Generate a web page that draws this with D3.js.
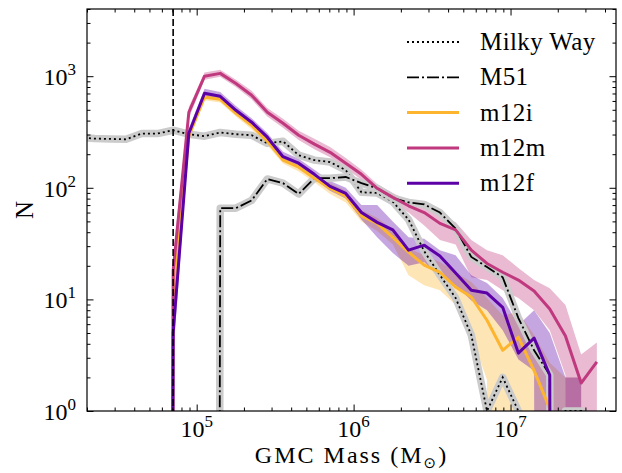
<!DOCTYPE html>
<html>
<head>
<meta charset="utf-8">
<script src="https://cdn.jsdelivr.net/npm/d3@7"></script>
<style>
body { margin: 0; background: #fff; }
</style>
</head>
<body>
<svg id="chart"></svg>
<script>
const width = 622;
const height = 473;
const plot = {left: 87, right: 616, top: 9, bottom: 411};
const serif = "'Liberation Serif', 'Times New Roman', Times, 'DejaVu Serif', 'Noto Serif', serif";

// bin centres, log10(M / Msun)
const binLogMass = [4.25, 4.35, 4.45, 4.55, 4.65, 4.75, 4.85, 4.95, 5.05, 5.15, 5.25, 5.35,
    5.45, 5.55, 5.65, 5.75, 5.85, 5.95, 6.05, 6.15, 6.25, 6.35, 6.45, 6.55, 6.65, 6.75,
    6.85, 6.95, 7.05, 7.15, 7.25, 7.35, 7.45, 7.55];

// counts per bin (null = not plotted, 0 = empty bin)
const milkyWay = [282, 276, 274, 272, 306, 306, 328, 302, 290, 313, 302, 296, 250, 261, 196, 177,
    170, 144, 91, 90, 75, 52, 27, 16.5, 10.3, 4.8, 1.0, 2, 1.0, 0, 0, 1, 1, 0];
const m51 = [null, null, null, null, null, null, null, null, 0, 65.7, 65.7, 77, 120, 110, 88, 122,
    122, 125, 110, 99, 81, 74, 71, 60, 43, 24, 19.5, 15.8, 6.8, 3.5, 2.1, 0, null, null];

const m12i = [null, null, null, null, null, 0, 10, 290, 648, 621, 465, 363, 261, 177, 153, 122,
    99, 84, 56, 48, 36, 26.5, 20.3, 17.5, 12.9, 10.5, 6.5, 3.5, 4.6, 2.3, 1.05, 0, null, null];
const m12iLo = [null, null, null, null, null, null, 7, 270, 610, 580, 435, 335, 240, 165, 140, 112,
    88, 74, 50, 41, 31, 16.5, 13.4, 12.1, 8.9, 4.8, 1.9, 0, 0, 0, 0, 0, 0, null];
const m12iHi = [null, null, null, null, null, null, 14, 315, 690, 665, 500, 395, 285, 192, 167, 134,
    110, 94, 63, 54, 42, 28.8, 24.9, 21.6, 17.5, 14.3, 10.3, 7.2, 7.7, 4.8, 2.7, 2.0, 2.0, null];

const m12m = [null, null, null, null, null, 0, 18, 475, 1000, 1060, 860, 675, 475, 379, 296, 246,
    208, 166, 132, 99, 82, 69, 60, 48, 42, 27.6, 21, 17.5, 14.9, 11.9, 8.2, 4.7, 1.78, 2.75];
const m12mLo = [null, null, null, null, null, null, 12, 420, 930, 990, 800, 620, 435, 345, 268, 222,
    188, 150, 118, 90, 74, 60, 46, 34, 31, 15.8, 14.9, 12.1, 10.3, 8.0, 5.3, 2.1, 0, 0];
const m12mHi = [null, null, null, null, null, null, 25, 530, 1080, 1140, 930, 740, 520, 415, 325, 275,
    232, 185, 145, 108, 90, 76, 68, 57, 49, 34, 27.6, 24.9, 19.1, 14.9, 12.6, 8.9, 3.2, 4.1];

const m12f = [null, null, null, null, null, 0, 5, 308, 703, 661, 495, 387, 284, 190, 166, 132,
    103, 89, 60, 49, 42, 27.6, 30.6, 24.5, 17.2, 12.1, 11.4, 8.5, 3.3, 4.5, 2.1, 0, null, null];
const m12fLo = [null, null, null, null, null, null, 3, 280, 650, 615, 455, 355, 260, 175, 152, 120,
    94, 80, 52, 36, 26, 20, 21.5, 15.8, 13.4, 9.8, 8.0, 5.3, 2.9, 2.3, 0, 0, 0, null];
const m12fHi = [null, null, null, null, null, null, 7, 340, 770, 720, 540, 420, 310, 210, 182, 145,
    115, 100, 70, 70, 50, 36, 35, 27.6, 24.9, 16.5, 14, 10.3, 5.9, 8.0, 5.0, 2.0, 2.0, null];

const cutoffLogMass = 4.85;
const xTickExps = [5, 6, 7];
const yTickExps = [0, 1, 2, 3];

const observed = [
    {name: 'Milky Way', counts: milkyWay, dash: '2,3'},
    {name: 'M51', counts: m51, dash: '12,3,2,3'}
];
const sims = [
    {name: 'm12i', counts: m12i, lo: m12iLo, hi: m12iHi, color: '#fdb42f'},
    {name: 'm12m', counts: m12m, lo: m12mLo, hi: m12mHi, color: '#c0397f'},
    {name: 'm12f', counts: m12f, lo: m12fLo, hi: m12fHi, color: '#5c01a6'}
];

const floor = 1e-60; // empty bins drop off the log axis
const svg = d3.select('#chart').attr('width', width).attr('height', height)
    .attr('font-family', serif);
svg.append('rect').attr('width', width).attr('height', height).attr('fill', '#fff');

const x = d3.scaleLog().domain([2e4, 4.7e7]).range([plot.left, plot.right]);
const y = d3.scaleLog().domain([1, 4000]).range([plot.bottom, plot.top]);

svg.append('clipPath').attr('id', 'clip')
    .append('rect')
    .attr('x', plot.left).attr('y', plot.top)
    .attr('width', plot.right - plot.left).attr('height', plot.bottom - plot.top);

const g = svg.append('g').attr('clip-path', 'url(#clip)');

const rows = arr => binLogMass.map((lm, i) => ({m: Math.pow(10, lm), n: arr[i]}));
const line = d3.line()
    .defined(d => d.n != null)
    .x(d => x(d.m))
    .y(d => y(Math.max(d.n, floor)));
const area = d3.area()
    .defined(d => d.lo != null)
    .x(d => x(d.m))
    .y0(d => y(Math.max(d.lo, floor)))
    .y1(d => y(Math.max(d.hi, floor)));

// shaded ranges
sims.forEach(s => {
    const data = binLogMass.map((lm, i) => ({m: Math.pow(10, lm), lo: s.lo[i], hi: s.hi[i]}));
    g.append('path')
        .datum(data)
        .attr('d', area)
        .attr('fill', s.color)
        .attr('fill-opacity', 0.35)
        .attr('stroke', 'none');
});

// observations with grey halo
observed.forEach(o => {
    g.append('path').datum(rows(o.counts)).attr('d', line)
        .attr('fill', 'none').attr('stroke', '#cbcbcb').attr('stroke-width', 7.5)
        .attr('stroke-linejoin', 'round').attr('stroke-linecap', 'round');
    g.append('path').datum(rows(o.counts)).attr('d', line)
        .attr('fill', 'none').attr('stroke', '#000').attr('stroke-width', 1.8)
        .attr('stroke-dasharray', o.dash);
});

sims.forEach(s => {
    g.append('path').datum(rows(s.counts)).attr('d', line)
        .attr('fill', 'none').attr('stroke', s.color).attr('stroke-width', 3)
        .attr('stroke-linejoin', 'round');
});

// mass cutoff
g.append('line')
    .attr('x1', x(Math.pow(10, cutoffLogMass))).attr('x2', x(Math.pow(10, cutoffLogMass)))
    .attr('y1', plot.top).attr('y2', plot.bottom)
    .attr('stroke', '#000').attr('stroke-width', 1.6).attr('stroke-dasharray', '7,3');

// ticks on all four sides, pointing in
const isMajor = v => Math.abs(Math.log10(v) - Math.round(Math.log10(v))) < 1e-9;
const xMinor = x.ticks().filter(v => !isMajor(v));
const yMinor = y.ticks().filter(v => !isMajor(v));
const xMajor = xTickExps.map(e => Math.pow(10, e));
const yMajor = yTickExps.map(e => Math.pow(10, e));

function ticks(axisFn, scale, values, size, transform) {
    svg.append('g')
        .attr('transform', transform)
        .call(axisFn(scale).tickValues(values).tickSize(-size).tickSizeOuter(0).tickFormat(''))
        .call(a => a.select('.domain').remove())
        .call(a => a.selectAll('line').attr('stroke', '#000').attr('stroke-width', 1));
}
ticks(d3.axisBottom, x, xMajor, 6.5, `translate(0,${plot.bottom})`);
ticks(d3.axisBottom, x, xMinor, 3.5, `translate(0,${plot.bottom})`);
ticks(d3.axisTop, x, xMajor, 6.5, `translate(0,${plot.top})`);
ticks(d3.axisTop, x, xMinor, 3.5, `translate(0,${plot.top})`);
ticks(d3.axisLeft, y, yMajor, 6.5, `translate(${plot.left},0)`);
ticks(d3.axisLeft, y, yMinor, 3.5, `translate(${plot.left},0)`);
ticks(d3.axisRight, y, yMajor, 6.5, `translate(${plot.right},0)`);
ticks(d3.axisRight, y, yMinor, 3.5, `translate(${plot.right},0)`);

svg.append('rect')
    .attr('x', plot.left).attr('y', plot.top)
    .attr('width', plot.right - plot.left).attr('height', plot.bottom - plot.top)
    .attr('fill', 'none').attr('stroke', '#000').attr('stroke-width', 1.2);

// tick labels 10^n
xTickExps.forEach(e => {
    const t = svg.append('text')
        .attr('x', x(Math.pow(10, e))).attr('y', plot.bottom + 26)
        .attr('text-anchor', 'middle').attr('font-size', 24).attr('font-family', serif);
    t.append('tspan').text('10');
    t.append('tspan').attr('dy', -10).attr('font-size', 17).text(e);
});
yTickExps.forEach(e => {
    const t = svg.append('text')
        .attr('x', plot.left - 11).attr('y', y(Math.pow(10, e)) + 9)
        .attr('text-anchor', 'end').attr('font-size', 24).attr('font-family', serif);
    t.append('tspan').text('10');
    t.append('tspan').attr('dy', -10).attr('font-size', 17).text(e);
});

// axis titles
const xt = svg.append('text')
    .attr('x', (plot.left + plot.right) / 2).attr('y', 463)
    .attr('text-anchor', 'middle').attr('font-size', 24).attr('letter-spacing', 2)
    .attr('font-family', serif);
xt.append('tspan').text('GMC Mass (M');
xt.append('tspan').attr('dy', 5).attr('font-size', 15).attr('font-family', 'DejaVu Sans').text('\u2299');
xt.append('tspan').attr('dy', -5).text(')');

svg.append('text')
    .attr('transform', `translate(33,${(plot.top + plot.bottom) / 2}) rotate(-90)`)
    .attr('text-anchor', 'middle').attr('font-size', 25).attr('font-family', serif)
    .text('N');

// legend
const legendItems = [
    {name: 'Milky Way', color: '#000', width: 1.8, dash: '2,3'},
    {name: 'M51', color: '#000', width: 1.8, dash: '12,3,2,3'},
    ...sims.map(s => ({name: s.name, color: s.color, width: 3, dash: null}))
];
const legend = svg.append('g');
legendItems.forEach((d, i) => {
    const ly = 42 + i * 35.3;
    legend.append('line')
        .attr('x1', 407).attr('x2', 459).attr('y1', ly).attr('y2', ly)
        .attr('stroke', d.color).attr('stroke-width', d.width)
        .attr('stroke-dasharray', d.dash);
    legend.append('text')
        .attr('x', 480).attr('y', ly + 8)
        .attr('font-size', 25).attr('letter-spacing', 0.4).attr('font-family', serif)
        .text(d.name);
});
</script>
</body>
</html>
